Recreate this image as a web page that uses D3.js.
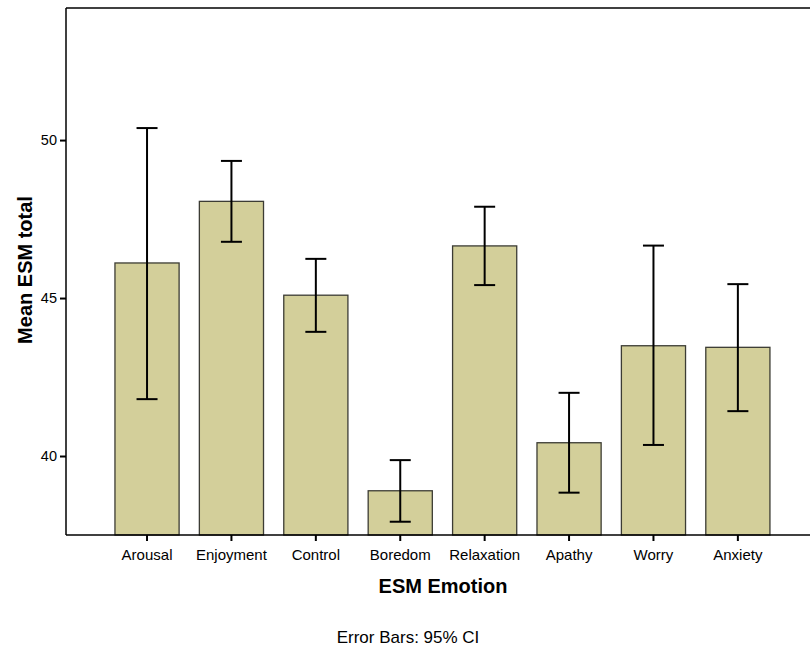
<!DOCTYPE html>
<html>
<head>
<meta charset="utf-8">
<script src="https://cdn.jsdelivr.net/npm/d3@7"></script>
<style>
  html, body { margin: 0; padding: 0; background: #fff; }
  svg { display: block; font-family: Arial, "Liberation Sans", sans-serif; }
</style>
</head>
<body>
<svg id="chart" width="810" height="652"></svg>
<script>
const categories = ["Arousal", "Enjoyment", "Control", "Boredom", "Relaxation", "Apathy", "Worry", "Anxiety"];
const means = [46.11, 48.06, 45.09, 38.90, 46.65, 40.42, 43.49, 43.44];
const ciLow = [41.80, 46.78, 43.93, 37.92, 45.41, 38.84, 40.35, 41.42];
const ciHigh = [50.38, 49.34, 46.24, 39.87, 47.89, 42.00, 46.66, 45.44];
const yTicks = [40, 45, 50];

(function () {
const svg = d3.select("#chart");
const pLeft = 66, pTop = 8, pBottom = 535, pRight = 812;

const x = d3.scaleBand()
  .domain(categories)
  .range([94.7, 790.2])
  .paddingInner(0.24)
  .paddingOuter(0.24);

const y = d3.scaleLinear()
  .domain([37.5, 54.18])
  .range([pBottom, pTop]);

const data = categories.map((c, i) => ({ c, m: means[i], lo: ciLow[i], hi: ciHigh[i] }));

// bars
svg.append("g").selectAll("rect")
  .data(data).enter().append("rect")
  .attr("x", d => x(d.c))
  .attr("y", d => y(d.m))
  .attr("width", x.bandwidth())
  .attr("height", d => pBottom - y(d.m))
  .attr("fill", "#d3cf9a")
  .attr("stroke", "#3c3c34")
  .attr("stroke-width", 1.3);

// error bars
const eb = svg.append("g").attr("stroke", "#000").attr("stroke-width", 2);
const cap = 10.5;
data.forEach(d => {
  const cx = x(d.c) + x.bandwidth() / 2;
  eb.append("line").attr("x1", cx).attr("x2", cx).attr("y1", y(d.lo)).attr("y2", y(d.hi));
  eb.append("line").attr("x1", cx - cap).attr("x2", cx + cap).attr("y1", y(d.hi)).attr("y2", y(d.hi));
  eb.append("line").attr("x1", cx - cap).attr("x2", cx + cap).attr("y1", y(d.lo)).attr("y2", y(d.lo));
});

// frame: top line
svg.append("line")
  .attr("x1", pLeft).attr("x2", pRight)
  .attr("y1", pTop).attr("y2", pTop)
  .attr("stroke", "#000").attr("stroke-width", 1.5);

// y axis
const yAxis = svg.append("g")
  .attr("transform", `translate(${pLeft},0)`)
  .call(d3.axisLeft(y).tickValues(yTicks).tickSize(6).tickPadding(3).tickFormat(d3.format("d")));
yAxis.select(".domain").remove();
yAxis.append("line").attr("x1", 0).attr("x2", 0).attr("y1", pTop).attr("y2", pBottom)
  .attr("stroke", "#000").attr("stroke-width", 1.5);
yAxis.selectAll(".tick line").attr("stroke-width", 2);
yAxis.selectAll(".tick text").attr("font-size", 14.5).attr("fill", "#000")
  .style("font-family", "Arial, 'Liberation Sans', sans-serif");

// x axis
const xAxis = svg.append("g")
  .attr("transform", `translate(0,${pBottom})`)
  .call(d3.axisBottom(x).tickSize(6).tickPadding(8));
xAxis.select(".domain").remove();
xAxis.append("line").attr("x1", pLeft).attr("x2", pRight).attr("y1", 0).attr("y2", 0)
  .attr("stroke", "#000").attr("stroke-width", 1.5);
xAxis.selectAll(".tick line").attr("stroke-width", 2);
xAxis.selectAll(".tick text").attr("font-size", 15).attr("fill", "#000")
  .style("font-family", "Arial, 'Liberation Sans', sans-serif");

// axis titles
svg.append("text")
  .attr("x", 443).attr("y", 593)
  .attr("text-anchor", "middle")
  .attr("font-size", 20).attr("font-weight", "bold")
  .text("ESM Emotion");

svg.append("text")
  .attr("transform", "translate(32,270) rotate(-90)")
  .attr("text-anchor", "middle")
  .attr("font-size", 20).attr("font-weight", "bold")
  .text("Mean ESM total");

svg.append("text")
  .attr("x", 408).attr("y", 643)
  .attr("text-anchor", "middle")
  .attr("font-size", 17)
  .text("Error Bars: 95% CI");
})();
</script>
</body>
</html>
